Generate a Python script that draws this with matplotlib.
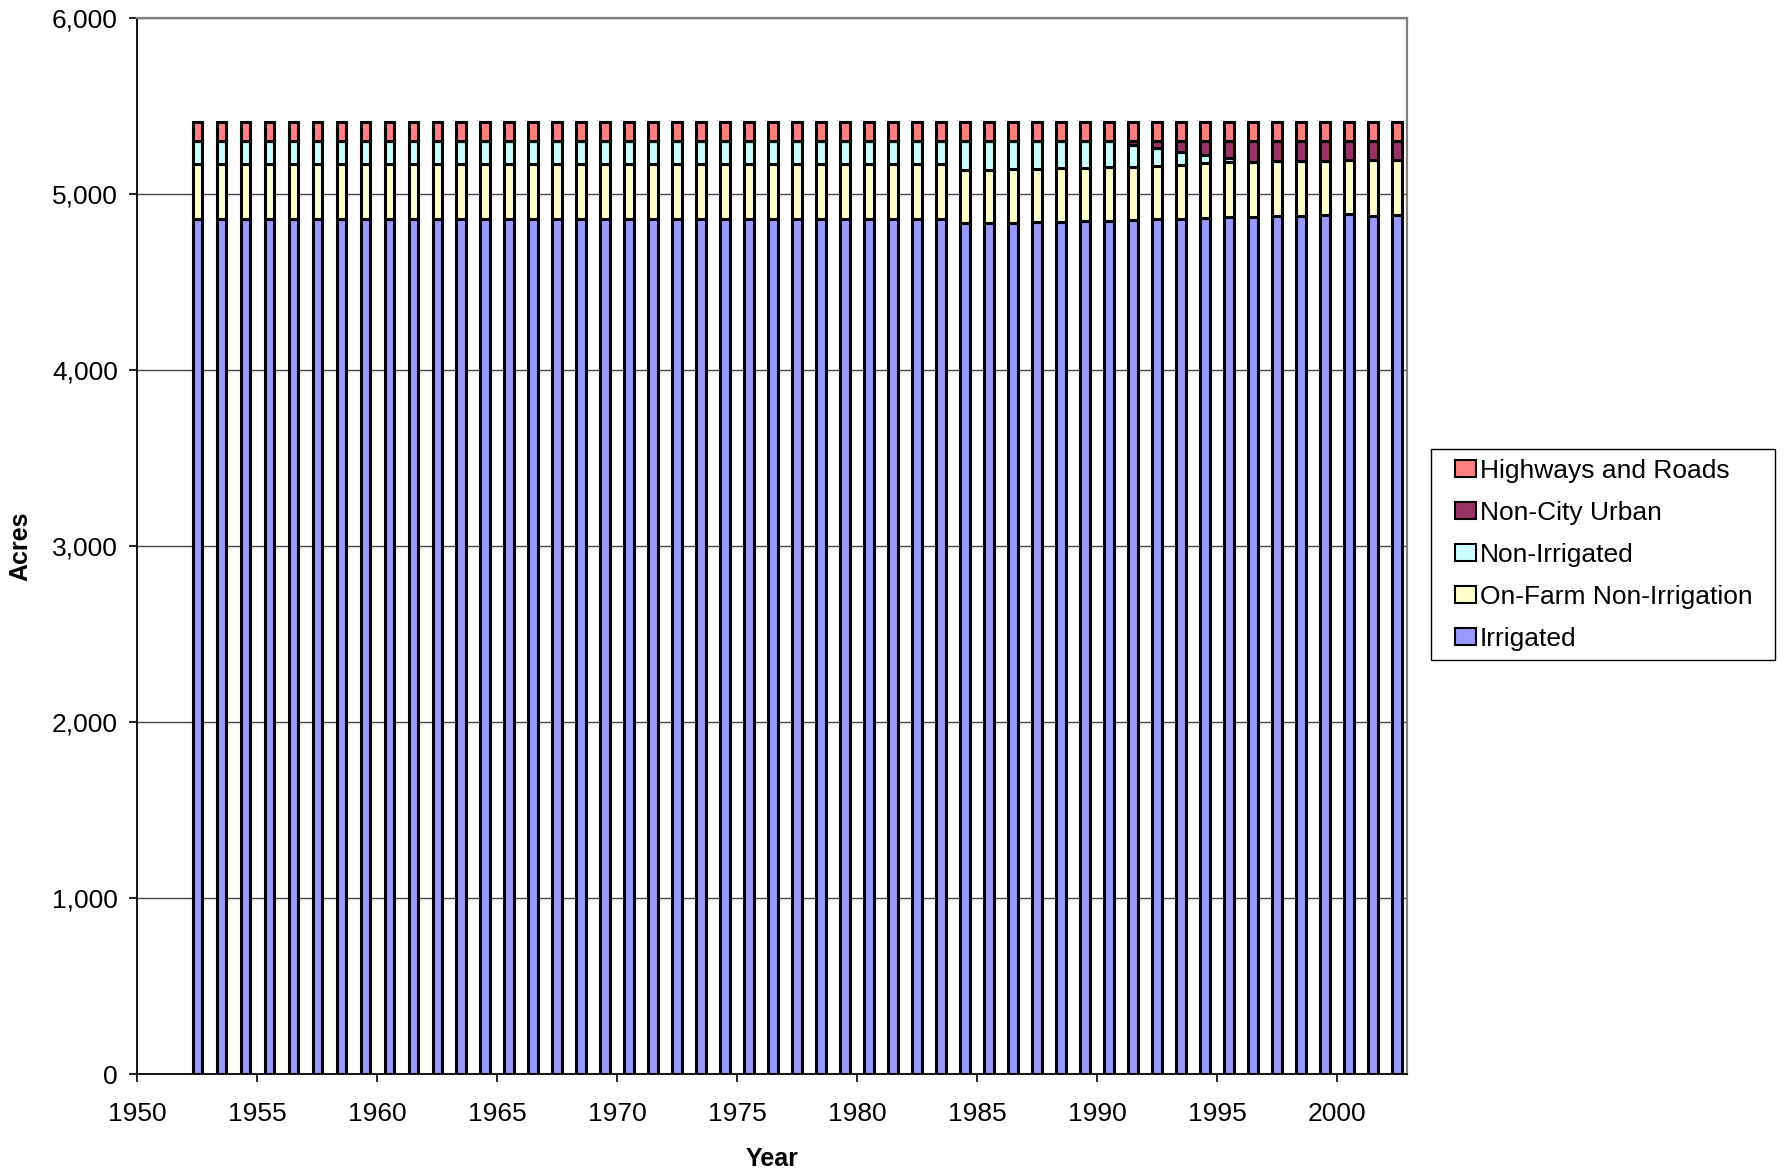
import matplotlib
matplotlib.use("Agg")
import matplotlib.pyplot as plt
from matplotlib.patches import Rectangle
import numpy as np

plt.rcParams["font.family"] = ["Liberation Sans", "DejaVu Sans"]

# land use by year (acres)
years = np.arange(1952, 2003)

irrigated = [4860] * 32 + [
    4837, 4837, 4839, 4843, 4845, 4847, 4850, 4854, 4858, 4858,
    4866, 4869, 4871, 4875, 4879, 4883, 4885, 4879, 4881,
]
on_farm = [310] * 32 + [
    303, 303, 303, 301, 303, 303, 302, 301, 305, 311,
    312, 315, 313, 313, 311, 308, 308, 314, 312,
]
non_irrigated = [133] * 32 + [
    163, 163, 161, 159, 155, 153, 151, 125, 97, 72,
    44, 23, 0, 0, 0, 0, 0, 0, 0,
]
non_city_urban = [0] * 32 + [
    0, 0, 0, 0, 0, 0, 0, 23, 43, 62,
    81, 96, 119, 115, 113, 112, 110, 110, 110,
]
highways = [108] * 51

series = [
    ("Irrigated", irrigated, "#9999FF"),
    ("On-Farm Non-Irrigation", on_farm, "#FFFFCC"),
    ("Non-Irrigated", non_irrigated, "#CCFFFF"),
    ("Non-City Urban", non_city_urban, "#993366"),
    ("Highways and Roads", highways, "#FF8080"),
]

fig = plt.figure(figsize=(17.84, 11.72), dpi=100)
ax = fig.add_axes([0.077, 0.0836, 0.7115, 0.9008])

x = years + 0.5
bottom = np.zeros(len(years))
handles = []
for name, vals, color in series:
    vals = np.array(vals, dtype=float)
    b = ax.bar(x, vals, width=0.40, bottom=bottom, color=color,
               edgecolor="black", linewidth=2.2, label=name, zorder=3)
    handles.append(b)
    bottom += vals

ax.set_xlim(1950, 2002.9)
ax.set_ylim(0, 6000)
ax.set_xticks(range(1950, 2001, 5))
ax.set_yticks(range(0, 6001, 1000))
ax.yaxis.set_major_formatter(matplotlib.ticker.FuncFormatter(lambda v, p: f"{int(v):,}"))
ax.grid(axis="y", color="#444444", linewidth=1.0, zorder=0)
ax.tick_params(axis="both", direction="out", labelsize=19, width=1.2,
               color="black", length=6)
ax.tick_params(axis="y", pad=8)
ax.tick_params(axis="x", pad=14)

for side in ("left", "bottom"):
    ax.spines[side].set_color("black")
    ax.spines[side].set_linewidth(1.3)
for side in ("top", "right"):
    ax.spines[side].set_color("#808080")
    ax.spines[side].set_linewidth(1.6)

ax.set_xlabel("Year", fontsize=18, fontweight="bold", labelpad=15)
ax.set_ylabel("Acres", fontsize=18, fontweight="bold", labelpad=14)

# legend entries without their own frame; the box is drawn separately so the
# side padding can be wider than the top/bottom padding, as in the original
leg = fig.legend(handles[::-1], [s[0] for s in series][::-1],
                 loc="upper left", bbox_to_anchor=(0.8156, 0.6084),
                 borderaxespad=0, borderpad=0, fontsize=19, frameon=False,
                 handlelength=0.78, handleheight=0.6,
                 handletextpad=0.15, labelspacing=0.68)
for h in leg.legend_handles:
    h.set_linewidth(1.5)
fig.patches.append(Rectangle((0.8021, 0.4369), 0.1928, 0.1800,
                             transform=fig.transFigure, fill=False,
                             edgecolor="black", linewidth=1.0))

fig.savefig("out.png", dpi=100)
